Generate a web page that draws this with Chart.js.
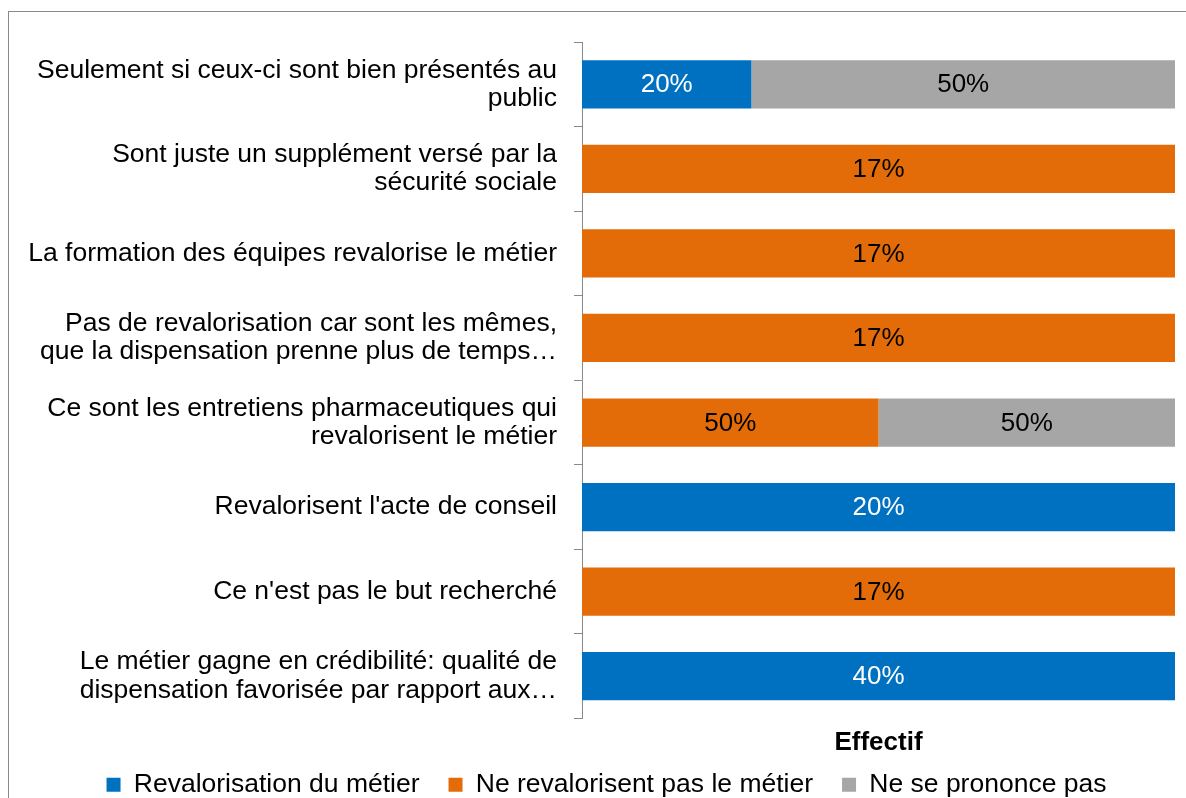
<!DOCTYPE html>
<html>
<head>
<meta charset="utf-8">
<script src="https://cdn.jsdelivr.net/npm/chart.js@4"></script>
<style>
  html, body { margin: 0; padding: 0; background: #fff; overflow: hidden; }
  #frame { position: absolute; left: 8px; top: 11px; width: 1300px; height: 900px; border: 1px solid #8a8a8a; box-sizing: border-box; }
  #wrap { position: absolute; left: 0; top: 0; width: 1258px; height: 808px; }
</style>
</head>
<body>
<div id="frame"></div>
<div id="wrap"><canvas id="chart"></canvas></div>
<script>
// --- data ---
const categories = [
    ["Seulement si ceux-ci sont bien présentés au", "public"],
    ["Sont juste un supplément versé par la", "sécurité sociale"],
    "La formation des équipes revalorise le métier",
    ["Pas de revalorisation car sont les mêmes,", "que la dispensation prenne plus de temps…"],
    ["Ce sont les entretiens pharmaceutiques qui", "revalorisent le métier"],
    "Revalorisent l'acte de conseil",
    "Ce n'est pas le but recherché",
    ["Le métier gagne en crédibilité: qualité de", "dispensation favorisée par rapport aux…"]
];
const seriesNames = ["Revalorisation du métier", "Ne revalorisent pas le métier", "Ne se prononce pas"];
const revalorisation = [20, 0, 0, 0, 0, 20, 0, 40];
const neRevalorisentPas = [0, 17, 17, 17, 50, 0, 17, 0];
const nePrononcePas = [50, 0, 0, 0, 50, 0, 0, 0];
const colors = ["#0070C0", "#E36C09", "#A6A6A6"];

const raw = [revalorisation, neRevalorisentPas, nePrononcePas];
const rowTotals = categories.map((c, i) => raw.reduce((s, arr) => s + arr[i], 0));
// 100% stacked: each bar is its share of the row
const share = arr => arr.map((v, i) => rowTotals[i] ? v / rowTotals[i] * 100 : 0);

const FONT = "'Liberation Sans', Arial, sans-serif";
const PAD_LEFT = 38;

// value labels in the middle of each segment
const segmentLabels = {
    id: 'segmentLabels',
    afterDatasetsDraw(chart) {
        const ctx = chart.ctx;
        ctx.save();
        ctx.font = `26px ${FONT}`;
        ctx.textAlign = 'center';
        ctx.textBaseline = 'middle';
        chart.data.datasets.forEach((ds, di) => {
            const meta = chart.getDatasetMeta(di);
            meta.data.forEach((bar, i) => {
                const v = raw[di][i];
                if (!v) return;
                const cx = (bar.x + bar.base) / 2;
                ctx.fillStyle = di === 0 ? '#ffffff' : '#000000';
                ctx.fillText(v + '%', cx, bar.y + 1);
            });
        });
        ctx.restore();
    }
};

// the long category labels run past the left padding, so widen the label clip
const labelRoom = {
    id: 'labelRoom',
    afterLayout(chart) {
        chart.scales.y.left = 0;
    }
};

new Chart(document.getElementById('chart'), {
    type: 'bar',
    data: {
        labels: categories,
        datasets: seriesNames.map((name, k) => ({
            label: name,
            data: share(raw[k]),
            backgroundColor: colors[k],
            borderWidth: 0,
            barPercentage: 0.57,
            categoryPercentage: 1
        }))
    },
    options: {
        indexAxis: 'y',
        responsive: true,
        maintainAspectRatio: false,
        animation: false,
        layout: { padding: { top: 42, right: 83, left: PAD_LEFT, bottom: 0 } },
        scales: {
            x: {
                stacked: true,
                min: 0,
                max: 100,
                ticks: { display: false },
                grid: { display: false },
                border: { display: false },
                title: {
                    display: true,
                    text: 'Effectif',
                    color: '#000',
                    font: { family: FONT, size: 26, weight: 'bold' },
                    padding: { top: 0.4, bottom: -15.6 }
                }
            },
            y: {
                stacked: true,
                afterFit: (scale) => {
                    scale.width = 582 - PAD_LEFT;
                    scale.paddingTop = 0;
                    scale.paddingBottom = 0;
                },
                border: { display: true, color: '#898989', width: 1 },
                grid: { drawOnChartArea: false, drawTicks: true, tickLength: 8, color: '#898989', offset: true },
                ticks: {
                    autoSkip: false,
                    padding: 17,
                    color: '#000',
                    font: { family: FONT, size: 26.5, lineHeight: 1.06 }
                }
            }
        },
        plugins: {
            legend: {
                position: 'bottom',
                labels: {
                    boxWidth: 14,
                    boxHeight: 14,
                    padding: 29,
                    color: '#000',
                    font: { family: FONT, size: 26.5 }
                }
            },
            tooltip: { enabled: false }
        }
    },
    plugins: [segmentLabels, labelRoom]
});
</script>
</body>
</html>
